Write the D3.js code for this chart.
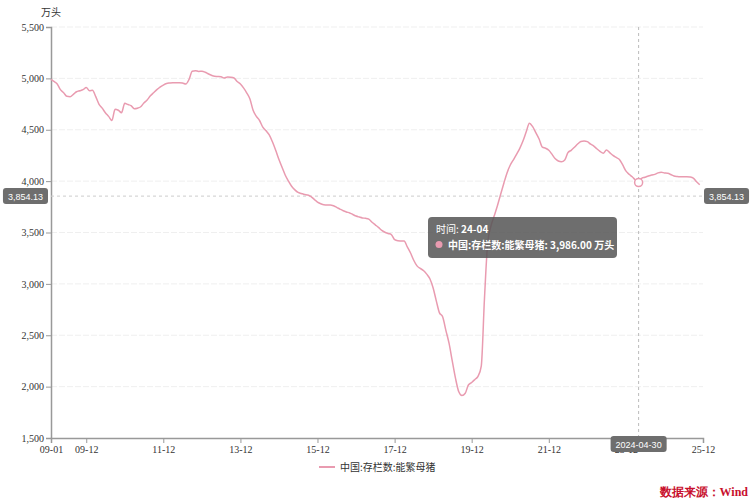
<!DOCTYPE html>
<html>
<head>
<meta charset="utf-8">
<script src="https://cdn.jsdelivr.net/npm/d3@7/dist/d3.min.js"></script>
<style>
  body { margin: 0; background: #fff; }
  svg { display: block; }
</style>
</head>
<body>
<script>
// monthly values, 2009-01 .. 2025-11 (万头)
var startYear = 2009;
var values = [
  4990,4970,4945,4890,4860,4825,4822,4845,4870,4880,4890,4910,   // 2009
  4880,4885,4822,4750,4710,4666,4630,4590,4700,4690,4666,4757,   // 2010
  4745,4735,4705,4710,4724,4760,4790,4830,4860,4890,4915,4935,   // 2011
  4950,4955,4958,4958,4958,4955,4945,4990,5070,5075,5068,5069,   // 2012
  5060,5045,5030,5020,5018,5015,5004,5014,5012,5004,4970,4945,   // 2013
  4905,4860,4800,4690,4630,4590,4525,4490,4450,4380,4300,4210,   // 2014
  4130,4060,4000,3950,3915,3890,3880,3870,3865,3850,3823,3795,   // 2015
  3780,3770,3768,3768,3760,3745,3728,3712,3700,3690,3675,3660,   // 2016
  3650,3642,3638,3630,3600,3575,3550,3520,3502,3490,3480,3430,   // 2017
  3420,3418,3417,3360,3300,3230,3175,3150,3130,3095,3050,2960,   // 2018
  2830,2720,2680,2550,2420,2250,2080,1950,1913,1935,2016,2040,   // 2019
  2070,2100,2200,2850,3400,3560,3660,3760,3870,3980,4080,4157,   // 2020
  4210,4260,4319,4390,4480,4564,4530,4470,4410,4330,4320,4300,   // 2021
  4260,4220,4196,4189,4206,4277,4300,4330,4361,4385,4390,4384,   // 2022
  4360,4343,4315,4290,4271,4303,4277,4250,4230,4210,4160,4100,   // 2023
  4067,4042,4010,3986,4030,4038,4050,4060,4066,4080,4086,4080,   // 2024
  4076,4065,4050,4045,4043,4043,4043,4040,4030,3994,3965         // 2025
];
var seriesName = "中国:存栏数:能繁母猪";
var unit = "万头";
var yTicks = [1500,2000,2500,3000,3500,4000,4500,5000,5500];
var xTickLabels = ["09-01","09-12","11-12","13-12","15-12","17-12","19-12","21-12","23-12","25-12"];
var markValue = 3854.13;
var hoverDate = "2024-04-30";
var hoverLabel = "24-04";
var hoverValue = 3986.00;

var W = 756, H = 500;
var plot = { left: 51, right: 703, top: 27, bottom: 438 };
var pink = "#e99bb0";

function monthEnd(yr, m) { return new Date(yr, m + 1, 0); }   // m: 0-based
var data = values.map(function(v, i) {
  return { date: monthEnd(startYear + Math.floor(i / 12), i % 12), value: v };
});
var tickDates = xTickLabels.map(function(s) {
  return monthEnd(2000 + (+s.slice(0, 2)), +s.slice(3) - 1);
});

var x = d3.scaleTime()
  .domain([monthEnd(2009, 0), monthEnd(2025, 11)])
  .range([plot.left, plot.right]);
var y = d3.scaleLinear().domain([1500, 5500]).range([plot.bottom, plot.top]);

var svg = d3.select("body").append("svg")
  .attr("width", W).attr("height", H);

var serif = "'Liberation Serif','Times New Roman',serif";
var cjk = "'Noto Sans CJK SC',sans-serif";

// grid
svg.append("g").selectAll("line")
  .data(yTicks.filter(function(d) { return d > 1500; }))
  .enter().append("line")
  .attr("x1", plot.left).attr("x2", plot.right)
  .attr("y1", function(d) { return y(d); })
  .attr("y2", function(d) { return y(d); })
  .attr("stroke", "#efefef")
  .attr("stroke-dasharray", "6,2");

// y axis
var yAxis = svg.append("g")
  .attr("transform", "translate(" + plot.left + ",0)")
  .call(d3.axisLeft(y).tickValues(yTicks).tickSize(5).tickPadding(2)
    .tickFormat(d3.format(",")));
yAxis.select(".domain").attr("stroke", "#999").attr("stroke-width", 1.5);
yAxis.selectAll(".tick line").attr("stroke", "#999");
yAxis.selectAll("text").attr("fill", "#333")
  .style("font-family", serif).style("font-size", "10px");

// x axis
var xAxis = svg.append("g")
  .attr("transform", "translate(0," + plot.bottom + ")")
  .call(d3.axisBottom(x).tickValues(tickDates).tickSize(5).tickPadding(3)
    .tickFormat(function(d, i) { return xTickLabels[i]; }));
xAxis.select(".domain").attr("stroke", "#999").attr("stroke-width", 1.5);
xAxis.selectAll(".tick line").attr("stroke", "#999");
xAxis.selectAll("text").attr("fill", "#333")
  .style("font-family", serif).style("font-size", "10px");

// unit label
svg.append("text")
  .attr("x", plot.left).attr("y", 16)
  .attr("text-anchor", "middle")
  .attr("fill", "#333")
  .style("font-family", cjk).style("font-size", "10px")
  .text(unit);

// horizontal pointer line
var my = y(markValue);
svg.append("line")
  .attr("x1", plot.left).attr("x2", plot.right)
  .attr("y1", my).attr("y2", my)
  .attr("stroke", "#ccc").attr("stroke-dasharray", "3,3");

// vertical pointer line
var hx = x(new Date(2024, 3, 30));
svg.append("line")
  .attr("x1", hx).attr("x2", hx)
  .attr("y1", plot.top).attr("y2", plot.bottom)
  .attr("stroke", "#bbb").attr("stroke-dasharray", "3,3");

// line
var line = d3.line()
  .x(function(d) { return x(d.date); })
  .y(function(d) { return y(d.value); })
  .curve(d3.curveMonotoneX);
svg.append("path")
  .datum(data)
  .attr("fill", "none")
  .attr("stroke", pink)
  .attr("stroke-width", 1.5)
  .attr("d", line);

// hovered point
svg.append("circle")
  .attr("cx", hx).attr("cy", y(hoverValue)).attr("r", 4)
  .attr("fill", "#fff").attr("stroke", pink).attr("stroke-width", 1.5);

// pointer labels
function badge(cx, cy, txt, anchor) {
  var g = svg.append("g");
  var t = g.append("text")
    .attr("y", cy + 3.5)
    .attr("fill", "#fff")
    .style("font-family", "'Liberation Sans',Arial,sans-serif")
    .style("font-size", "9px")
    .text(txt);
  var w = t.node().getComputedTextLength() + 10;
  var bx = anchor === "end" ? cx - w : anchor === "middle" ? cx - w / 2 : cx;
  t.attr("x", bx + 5);
  g.insert("rect", "text")
    .attr("x", bx).attr("y", cy - 8)
    .attr("width", w).attr("height", 16).attr("rx", 3)
    .attr("fill", "#6e6e6e");
}
badge(plot.left - 3, my, d3.format(",.2f")(markValue), "end");
badge(plot.right + 1, my, d3.format(",.2f")(markValue), "start");
badge(hx, plot.bottom + 6, hoverDate, "middle");

// tooltip
var tip = svg.append("g").attr("transform", "translate(428,217)");
tip.append("rect")
  .attr("width", 189).attr("height", 41).attr("rx", 4)
  .attr("fill", "#555").attr("fill-opacity", 0.85);
var t1 = tip.append("text").attr("x", 8).attr("y", 16)
  .attr("fill", "#fff").style("font-family", cjk).style("font-size", "10px");
t1.append("tspan").text("时间: ");
t1.append("tspan").attr("font-weight", "bold").text(hoverLabel);
tip.append("circle").attr("cx", 11).attr("cy", 27.5).attr("r", 3.5).attr("fill", pink);
tip.append("text").attr("x", 20).attr("y", 31.5)
  .attr("fill", "#fff").attr("font-weight", "bold")
  .style("font-family", cjk).style("font-size", "10px")
  .text(seriesName + ": " + d3.format(",.2f")(hoverValue) + "  " + unit);

// legend
var lg = svg.append("g").attr("transform", "translate(319,467)");
lg.append("line").attr("x1", 0).attr("x2", 16).attr("y1", 0).attr("y2", 0)
  .attr("stroke", pink).attr("stroke-width", 2);
lg.append("text").attr("x", 21).attr("y", 4)
  .attr("fill", "#333")
  .style("font-family", cjk).style("font-size", "10px")
  .text(seriesName);

// source
svg.append("text")
  .attr("x", 748).attr("y", 496)
  .attr("text-anchor", "end")
  .attr("fill", "#c8102e").attr("font-weight", "bold")
  .style("font-family", serif).style("font-size", "12px")
  .text("数据来源：Wind");
</script>
</body>
</html>
